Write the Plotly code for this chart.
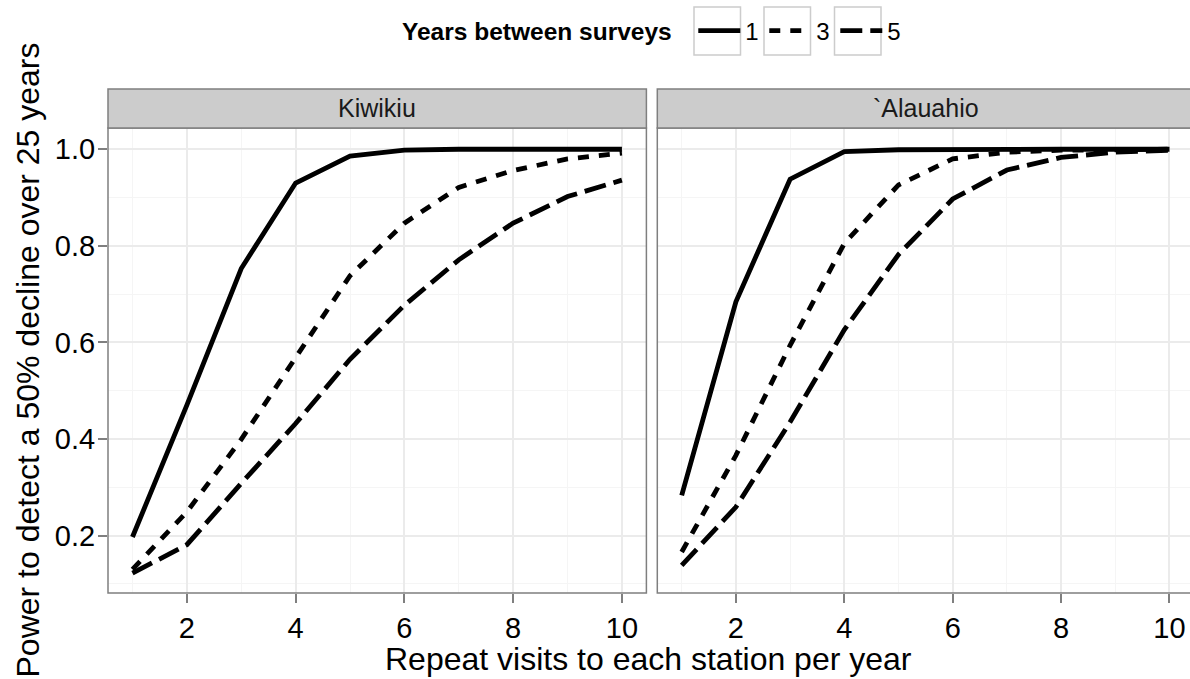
import plotly.graph_objects as go

# ---------------- data ----------------
visits = [1, 2, 3, 4, 5, 6, 7, 8, 9, 10]
sites = ["Kiwikiu", "`Alauahio"]
years_between = ["1", "3", "5"]

kiwikiu_1 = [0.197, 0.470, 0.753, 0.930, 0.986, 0.998, 1.000, 1.000, 1.000, 1.000]
kiwikiu_3 = [0.130, 0.249, 0.399, 0.567, 0.738, 0.847, 0.921, 0.956, 0.980, 0.992]
kiwikiu_5 = [0.122, 0.181, 0.308, 0.432, 0.565, 0.677, 0.771, 0.847, 0.902, 0.936]

alauahio_1 = [0.283, 0.684, 0.938, 0.995, 0.999, 1.000, 1.000, 1.000, 1.000, 1.000]
alauahio_3 = [0.166, 0.366, 0.594, 0.805, 0.926, 0.980, 0.994, 0.998, 0.999, 1.000]
alauahio_5 = [0.138, 0.259, 0.435, 0.626, 0.782, 0.897, 0.957, 0.983, 0.994, 0.998]

x_ticks = [2, 4, 6, 8, 10]
y_ticks = [0.2, 0.4, 0.6, 0.8, 1.0]
y_ticklabels = ["0.2", "0.4", "0.6", "0.8", "1.0"]

x_title = "Repeat visits to each station per year"
y_title = "Power to detect a 50% decline over 25 years"
legend_title = "Years between surveys"

# ---------------- style ----------------
W, H = 1190, 679
FONT = "Liberation Sans, Arial, sans-serif"
dashes = {"1": "solid", "3": "11px,10px", "5": "22px,8px"}
LW = 4.8
GREY50 = "#7F7F7F"


def px(xp):
    return xp / W


def py(yp):
    return 1 - yp / H


fig = go.Figure()

series = {
    "Kiwikiu": [kiwikiu_1, kiwikiu_3, kiwikiu_5],
    "`Alauahio": [alauahio_1, alauahio_3, alauahio_5],
}

for si, site in enumerate(sites):
    for yi, yb in enumerate(years_between):
        fig.add_trace(go.Scatter(
            x=visits, y=series[site][yi], mode="lines",
            name=yb, legendgroup=yb, showlegend=(si == 0),
            line=dict(color="black", width=LW, dash=dashes[yb]),
            xaxis="x" if si == 0 else "x2",
            yaxis="y" if si == 0 else "y2",
        ))

# panel geometry (pixels)
L_X0, L_X1 = 108.0, 646.4
R_X0 = 657.3
P_TOP, P_BOT = 128.0, 593.0
S_TOP = 89.0
UNIT_X = 54.2

minor_x = dict(dtick=1, tick0=1, showgrid=True, gridcolor="#F5F5F5", gridwidth=1.2, ticks="")
minor_y = dict(dtick=0.1, tick0=0.1, showgrid=True, gridcolor="#F5F5F5", gridwidth=1.2, ticks="")
common_x = dict(
    tickvals=x_ticks, ticks="outside", ticklen=9, tickwidth=1.5, tickcolor=GREY50,
    showgrid=True, gridcolor="#EBEBEB", gridwidth=1.5, zeroline=False, showline=False,
    minor=minor_x, tickfont=dict(size=29, color="black", family=FONT),
)
fig.update_layout(
    xaxis=dict(domain=[px(L_X0), px(L_X1)], range=[0.55, 10.45], anchor="y", **common_x),
    xaxis2=dict(domain=[px(R_X0), 1.0], range=[0.55, 0.55 + (W - R_X0) / UNIT_X],
                anchor="y2", **common_x),
    yaxis=dict(domain=[py(P_BOT), py(P_TOP)], range=[0.081, 1.044], anchor="x",
               tickvals=y_ticks, ticktext=y_ticklabels, ticks="outside", ticklen=9,
               tickwidth=1.5, tickcolor=GREY50, showgrid=True, gridcolor="#EBEBEB",
               gridwidth=1.5, zeroline=False, showline=False, minor=minor_y,
               ticklabelstandoff=-3,
               tickfont=dict(size=29, color="black", family=FONT)),
    yaxis2=dict(domain=[py(P_BOT), py(P_TOP)], range=[0.081, 1.044], anchor="x2",
                matches="y", tickvals=y_ticks, showticklabels=False, ticks="",
                showgrid=True, gridcolor="#EBEBEB", gridwidth=1.5, zeroline=False,
                showline=False, minor=minor_y),
)

shapes = []
# panel borders
shapes.append(dict(type="rect", xref="x domain", yref="y domain", x0=0, x1=1, y0=0, y1=1,
                   line=dict(color=GREY50, width=1.5), layer="above"))
shapes.append(dict(type="rect", xref="x2 domain", yref="y2 domain", x0=0, x1=1.02, y0=0, y1=1,
                   line=dict(color=GREY50, width=1.5), layer="above"))
# strips
shapes.append(dict(type="rect", xref="paper", yref="paper", x0=px(L_X0), x1=px(L_X1),
                   y0=py(P_TOP), y1=py(S_TOP), fillcolor="#CCCCCC",
                   line=dict(color=GREY50, width=1.5)))
shapes.append(dict(type="rect", xref="paper", yref="paper", x0=px(R_X0), x1=1.02,
                   y0=py(P_TOP), y1=py(S_TOP), fillcolor="#CCCCCC",
                   line=dict(color=GREY50, width=1.5)))

# legend key boxes
LEG_Y = 31
for bx0 in [694, 764, 834.5]:
    shapes.append(dict(type="rect", xref="paper", yref="paper", x0=px(bx0), x1=px(bx0 + 46.5),
                       y0=py(LEG_Y + 24), y1=py(LEG_Y - 24),
                       line=dict(color="#CCCCCC", width=1.5)))
fig.update_layout(shapes=shapes)

annotations = [
    dict(text=sites[0], xref="paper", yref="paper", x=px((L_X0 + L_X1) / 2),
         y=py((S_TOP + P_TOP) / 2), showarrow=False, xanchor="center", yanchor="middle",
         font=dict(size=25, color="#1A1A1A", family=FONT)),
    dict(text=sites[1], xref="paper", yref="paper", x=px(925.5),
         y=py((S_TOP + P_TOP) / 2), showarrow=False, xanchor="center", yanchor="middle",
         font=dict(size=25, color="#1A1A1A", family=FONT)),
    dict(text=x_title, xref="paper", yref="paper", x=px(648), y=py(659), showarrow=False,
         xanchor="center", yanchor="middle", font=dict(size=32, color="black", family=FONT)),
    dict(text=y_title, xref="paper", yref="paper", x=px(27), y=py(360.5), showarrow=False,
         textangle=-90, xanchor="center", yanchor="middle",
         font=dict(size=32, color="black", family=FONT)),
]
fig.update_layout(annotations=annotations)

fig.update_layout(
    width=W, height=H, margin=dict(l=0, r=0, t=0, b=0),
    paper_bgcolor="white", plot_bgcolor="white",
    showlegend=True,
    legend=dict(
        orientation="h", x=px(400), xanchor="left", y=py(LEG_Y), yanchor="middle",
        title=dict(text="<b>" + legend_title + "\u00a0\u00a0</b>", side="left",
                   font=dict(size=24.5, color="black", family=FONT)),
        font=dict(size=24, color="black", family=FONT),
        itemwidth=42, entrywidth=14, entrywidthmode="pixels",
        bgcolor="rgba(0,0,0,0)", borderwidth=0,
        traceorder="normal", itemclick=False, itemdoubleclick=False,
    ),
)

fig.write_html(
    "out.html",
    config={"displayModeBar": False},
    post_script="document.body.style.margin='0';document.body.style.overflow='hidden';",
)
